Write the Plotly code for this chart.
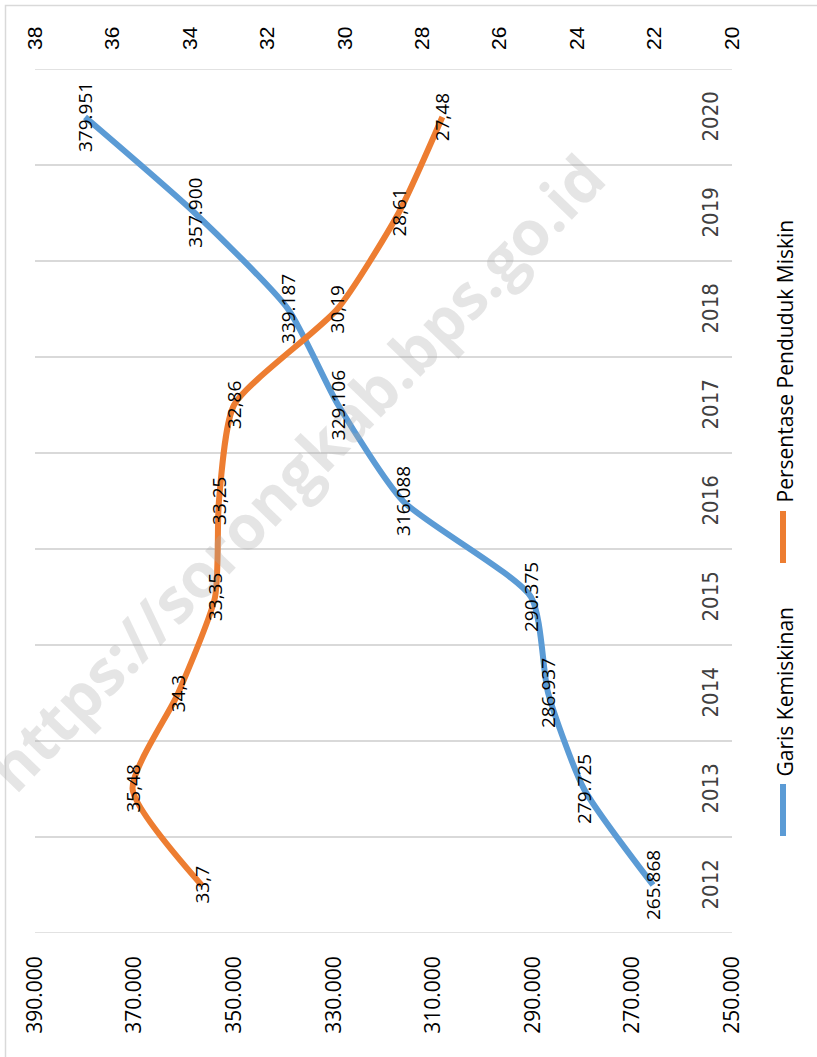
import plotly.graph_objects as go

# ---- data ----
years = [2012, 2013, 2014, 2015, 2016, 2017, 2018, 2019, 2020]
garis_kemiskinan = [265868, 279725, 286937, 290375, 316088, 329106, 339187, 357900, 379951]
persentase_miskin = [33.7, 35.48, 34.3, 33.35, 33.25, 32.86, 30.19, 28.61, 27.48]
garis_ticks = [250000, 270000, 290000, 310000, 330000, 350000, 370000, 390000]
persen_ticks = [20, 22, 24, 26, 28, 30, 32, 34, 36, 38]
series_names = ["Garis Kemiskinan", "Persentase Penduduk Miskin"]
watermark = "https://sorongkab.bps.go.id"

BLUE = "#5B9BD5"
ORANGE = "#ED7D31"
GRID = "#D9D9D9"

W, H = 817, 1057
ML, MT = 35, 69
PW, PH = 697, 864
MR, MB = W - ML - PW, H - MT - PH


def px_x(p):  # page pixel -> paper
    return (p - ML) / PW


def px_y(p):
    return (MT + PH - p) / PH


fig = go.Figure()
fig.add_trace(go.Scatter(
    x=garis_kemiskinan, y=years, mode="lines", name=series_names[0],
    line=dict(color=BLUE, width=6, shape="spline", smoothing=0.6),
    xaxis="x", yaxis="y", showlegend=False))
fig.add_trace(go.Scatter(
    x=persentase_miskin, y=years, mode="lines", name=series_names[1],
    line=dict(color=ORANGE, width=6, shape="spline", smoothing=0.6),
    xaxis="x2", yaxis="y", showlegend=False))

ann = []
ann.append(dict(x=px_x(295), y=px_y(472), xref="paper", yref="paper", text=watermark,
                showarrow=False, textangle=-46,
                font=dict(family="Open Sans, sans-serif", size=62, color="rgba(170,170,170,0.30)", weight="bold")))
label_font = dict(family="Open Sans, sans-serif", size=19, color="#000000")
for yr, v in zip(years, garis_kemiskinan):
    ann.append(dict(x=v, y=yr, xref="x", yref="y", text=f"{v:,}".replace(",", "."),
                    showarrow=False, textangle=-90, font=label_font))
for yr, v in zip(years, persentase_miskin):
    ann.append(dict(x=v, y=yr, xref="x2", yref="y", text=str(v).replace(".", ","),
                    showarrow=False, textangle=-90, font=label_font))
for yr in years:
    ann.append(dict(x=px_x(724), y=yr, xref="paper", yref="y", text=str(yr),
                    showarrow=False, textangle=-90,
                    font=dict(family="Liberation Sans Narrow, DejaVu Sans Condensed, sans-serif",
                              size=22, color="#404040")))
leg_font = dict(family="Open Sans, sans-serif", size=21, color="#000000")
ann.append(dict(x=px_x(784), y=px_y(779), xref="paper", yref="paper", text=series_names[0],
                showarrow=False, textangle=-90, yanchor="bottom", xanchor="center", font=leg_font))
ann.append(dict(x=px_x(784), y=px_y(505), xref="paper", yref="paper", text=series_names[1],
                showarrow=False, textangle=-90, yanchor="bottom", xanchor="center", font=leg_font))

shapes = [
    dict(type="line", xref="paper", yref="paper", x0=px_x(783), x1=px_x(783),
         y0=px_y(784), y1=px_y(836), line=dict(color=BLUE, width=6)),
    dict(type="line", xref="paper", yref="paper", x0=px_x(783), x1=px_x(783),
         y0=px_y(511), y1=px_y(563), line=dict(color=ORANGE, width=6)),
    dict(type="rect", xref="paper", yref="paper", x0=px_x(5.5), x1=px_x(W + 40),
         y0=px_y(H + 40), y1=px_y(5.5), line=dict(color=GRID, width=1.5), layer="below"),
    dict(type="line", xref="paper", yref="y", x0=0, x1=1, y0=years[0] - 0.5, y1=years[0] - 0.5,
         line=dict(color=GRID, width=1.5), layer="below"),
    dict(type="line", xref="paper", yref="y", x0=0, x1=1, y0=years[-1] + 0.5, y1=years[-1] + 0.5,
         line=dict(color=GRID, width=1.5), layer="below"),
]

fig.update_layout(
    width=W, height=H,
    margin=dict(l=ML, r=MR, t=MT, b=MB, pad=0, autoexpand=False),
    paper_bgcolor="white", plot_bgcolor="white",
    separators=",.",
    showlegend=False,
    annotations=ann, shapes=shapes,
    xaxis=dict(range=[390000, 250000], tickvals=garis_ticks, tickformat=",.0f",
               tickangle=-90, showgrid=False, zeroline=False, showline=False,
               ticks="", ticklabelstandoff=18, automargin=False,
               tickfont=dict(family="Open Sans, sans-serif", size=21, color="#000000")),
    xaxis2=dict(range=[38, 20], tickvals=persen_ticks, overlaying="x", side="top",
                tickangle=-90, showgrid=False, zeroline=False, showline=False,
                ticks="", ticklabelstandoff=18, automargin=False,
                tickfont=dict(family="Liberation Sans, Arial, sans-serif", size=21, color="#000000")),
    yaxis=dict(range=[years[0] - 0.5, years[-1] + 0.5], tickvals=[y - 0.5 for y in years[1:]],
               showticklabels=False, showgrid=True, gridcolor=GRID, gridwidth=1.5,
               zeroline=False, showline=False, ticks="", automargin=False),
)

fig.write_html("out.html", config={"displayModeBar": False},
               post_script="document.body.style.margin='0';")
